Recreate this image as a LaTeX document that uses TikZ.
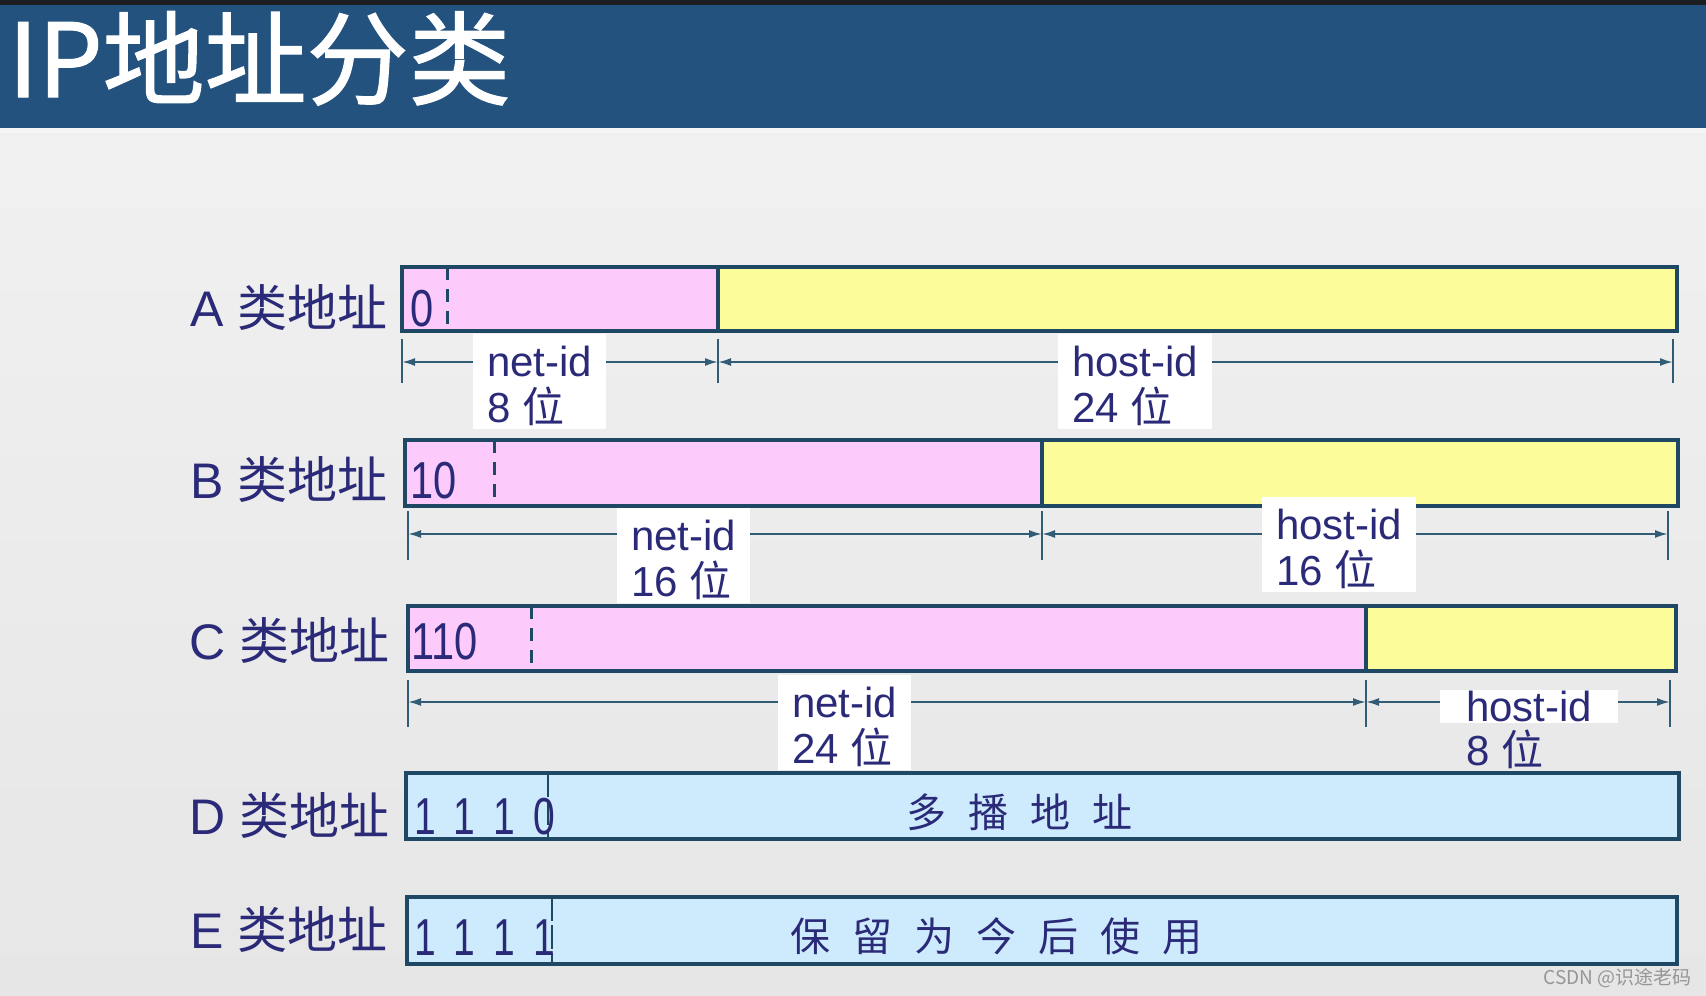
\documentclass[tikz,border=0pt]{standalone}
\usepackage{fontspec}
\usepackage{graphicx}
\setmainfont{Liberation Sans}
\newfontfamily\cjk{Noto Sans CJK SC}
\newfontfamily\cjktitle[FakeBold=1.2]{Noto Sans CJK SC}
\usetikzlibrary{arrows.meta}
\definecolor{titlebar}{RGB}{35,82,126}
\definecolor{titletop}{RGB}{28,30,34}
\definecolor{bordercol}{RGB}{30,72,100}
\definecolor{dimcol}{RGB}{50,92,118}
\definecolor{txt}{RGB}{42,42,120}
\definecolor{pinkc}{RGB}{253,203,251}
\definecolor{yelc}{RGB}{252,252,155}
\definecolor{bluec}{RGB}{205,235,252}
\definecolor{bgtop}{RGB}{242,242,242}
\definecolor{bgbot}{RGB}{230,230,230}
\definecolor{wmark}{RGB}{150,150,150}
\newcommand{\zw}[1]{{\cjk #1}}
\newcommand{\narrow}[1]{\scalebox{0.8}[1]{#1}}
\newcommand{\narrowD}[1]{\scalebox{0.75}[1]{#1}}
\newcommand{\labstrut}{\rule{0pt}{38pt}}
\begin{document}
\begin{tikzpicture}[x=1pt,y=-1pt,
  bar/.style={draw=bordercol, line width=4pt, outer sep=0pt, inner sep=0pt, anchor=north west},
  divider/.style={draw=bordercol, line width=3pt, dash pattern=on 13pt off 9pt},
  divsolid/.style={draw=bordercol, line width=2.5pt, dash pattern=on 24pt off 4pt},
  dimarrow/.style={draw=dimcol, line width=2pt, {Latex[length=13pt,width=8pt]}-{Latex[length=13pt,width=8pt]}},
  tickline/.style={draw=dimcol, line width=2pt},
  rowlab/.style={text=txt, inner sep=0pt, anchor=base east, font=\fontsize{50}{60}\selectfont},
  bits/.style={text=txt, inner sep=0pt, anchor=base west, font=\fontsize{52}{60}\selectfont},
  dimlab/.style={fill=white, text=txt, align=left, inner xsep=14pt, inner ysep=4pt, anchor=north west, font=\fontsize{42}{46}\selectfont},
  midtxt/.style={text=txt, inner sep=0pt, font=\cjk\fontsize{40}{44}\selectfont}
]
\useasboundingbox (0,0) rectangle (1706,996);
% background
\shade[top color=bgtop, bottom color=bgbot] (0,0) rectangle (1706,996);
\fill[titlebar] (0,0) rectangle (1706,128);
\fill[titletop] (0,0) rectangle (1706,5);
\fill[white, opacity=0.35] (0,128) rectangle (1706,133);
\node[anchor=base west, text=white, inner sep=0pt, font=\cjktitle\fontsize{102}{102}\selectfont] (title) at (8,97) {IP地址分类};

% ---------- row A ----------
\node[bar, fill=pinkc, minimum width=316pt, minimum height=64pt] (Anet) at (402,267) {};
\node[bar, fill=yelc, minimum width=959pt, minimum height=64pt] (Ahost) at (Anet.north east) {};
\draw[divider] (447,267) -- (447,331);
\node[rowlab] (labA) at (388,326) {A \zw{类地址}};
\node[bits] (bitsA) at (410,326) {\narrow{0}};
\coordinate (A0) at (402,362);
\coordinate (A1) at (718,362);
\coordinate (A2) at (1673,362);
\foreach \c in {A0,A1,A2} \draw[tickline] ([yshift=23pt]\c) -- ([yshift=-21pt]\c);
\draw[dimarrow] (A0) -- (A1);
\draw[dimarrow] (A1) -- (A2);
\node[dimlab] (Anetlab) at (473,334) {\labstrut net-id\\8 \zw{位}};
\node[dimlab] (Ahostlab) at (1058,334) {\labstrut host-id\\24 \zw{位}};

% ---------- row B ----------
\node[bar, fill=pinkc, minimum width=637pt, minimum height=66pt] (Bnet) at (405,440) {};
\node[bar, fill=yelc, minimum width=636pt, minimum height=66pt] (Bhost) at (Bnet.north east) {};
\draw[divider] (494,440) -- (494,506);
\node[rowlab] (labB) at (388,498) {B \zw{类地址}};
\node[bits] (bitsB) at (410,498) {\narrow{10}};
\coordinate (B0) at (408,534);
\coordinate (B1) at (1042,534);
\coordinate (B2) at (1668,534);
\foreach \c in {B0,B1,B2} \draw[tickline] ([yshift=23pt]\c) -- ([yshift=-26pt]\c);
\draw[dimarrow] (B0) -- (B1);
\draw[dimarrow] (B1) -- (B2);
\node[dimlab] (Bnetlab) at (617,508) {\labstrut net-id\\16 \zw{位}};
\node[dimlab] (Bhostlab) at (1262,497) {\labstrut host-id\\16 \zw{位}};

% ---------- row C ----------
\node[bar, fill=pinkc, minimum width=958pt, minimum height=65pt] (Cnet) at (408,606) {};
\node[bar, fill=yelc, minimum width=310pt, minimum height=65pt] (Chost) at (Cnet.north east) {};
\draw[divider] (531,606) -- (531,671);
\node[rowlab] (labC) at (390,659) {C \zw{类地址}};
\node[bits] (bitsC) at (411,659) {\narrow{110}};
\coordinate (C0) at (408,702);
\coordinate (C1) at (1366,702);
\coordinate (C2) at (1670,702);
\foreach \c in {C0,C1,C2} \draw[tickline] ([yshift=22pt]\c) -- ([yshift=-25pt]\c);
\draw[dimarrow] (C0) -- (C1);
\draw[dimarrow] (C1) -- (C2);
\node[dimlab] (Cnetlab) at (778,675) {\labstrut net-id\\24 \zw{位}};
\node[dimlab, inner xsep=26pt, inner ysep=1pt] (Chostlab) at (1440,690) {host-id};
\node[text=txt, inner sep=0pt, anchor=base west, font=\fontsize{42}{46}\selectfont] (Chostbits) at (1466,765) {8 \zw{位}};

% ---------- row D ----------
\node[bar, fill=bluec, minimum width=1273pt, minimum height=66pt] (Dbox) at (406,773) {};
\draw[divsolid] (548,773) -- (548,839);
\node[rowlab] (labD) at (390,834) {D \zw{类地址}};
\node[bits] (bitsD) at (414,834) {\narrowD{1\hspace{24pt}1\hspace{24pt}1\hspace{24pt}0}};
\node[midtxt] (Dtext) at (1019,812) {多\hspace{22pt}播\hspace{22pt}地\hspace{22pt}址};

% ---------- row E ----------
\node[bar, fill=bluec, minimum width=1270pt, minimum height=67pt] (Ebox) at (407,897) {};
\draw[divsolid] (552,897) -- (552,964);
\node[rowlab] (labE) at (388,948) {E \zw{类地址}};
\node[bits] (bitsE) at (414,955) {\narrowD{1\hspace{24pt}1\hspace{24pt}1\hspace{24pt}1}};
\node[midtxt] (Etext) at (996,936) {保\hspace{22pt}留\hspace{22pt}为\hspace{22pt}今\hspace{22pt}后\hspace{22pt}使\hspace{22pt}用};

% watermark
\node[anchor=base east, text=wmark, inner sep=0pt, font=\cjk\fontsize{19}{20}\selectfont] (wm) at (1692,984) {CSDN @识途老码};
\end{tikzpicture}
\end{document}
